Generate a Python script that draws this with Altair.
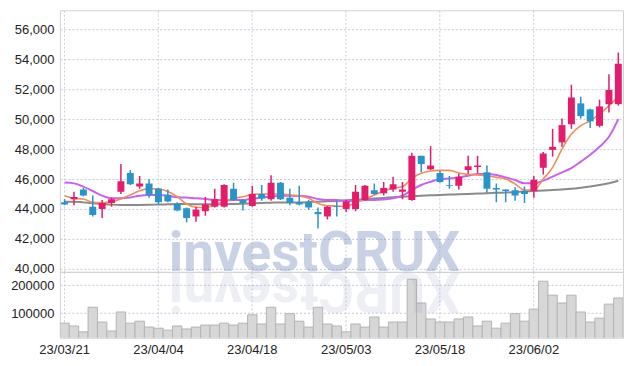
import altair as alt
import pandas as pd

dates = ["23/03/21", "23/03/22", "23/03/23", "23/03/24", "23/03/27", "23/03/28", "23/03/29", "23/03/30", "23/03/31", "23/04/03",
         "23/04/04", "23/04/05", "23/04/06", "23/04/07", "23/04/10", "23/04/11", "23/04/12", "23/04/13", "23/04/14", "23/04/17",
         "23/04/18", "23/04/19", "23/04/20", "23/04/21", "23/04/24", "23/04/25", "23/04/26", "23/04/27", "23/04/28", "23/05/02",
         "23/05/03", "23/05/04", "23/05/08", "23/05/09", "23/05/10", "23/05/11", "23/05/12", "23/05/15", "23/05/16", "23/05/17",
         "23/05/18", "23/05/19", "23/05/22", "23/05/23", "23/05/24", "23/05/25", "23/05/26", "23/05/30", "23/05/31", "23/06/01",
         "23/06/02", "23/06/05", "23/06/07", "23/06/08", "23/06/09", "23/06/12", "23/06/13", "23/06/14", "23/06/15", "23/06/16"]

opens = [44450, 44650, 45300, 44150, 44000, 44400, 45150, 46400, 45500, 45700,
         45350, 44950, 44350, 44050, 43500, 43850, 44150, 44150, 45350, 44600,
         44200, 45000, 44650, 45750, 44750, 44450, 44450, 43800, 43500, 44200,
         44000, 44000, 44600, 45250, 45050, 45300, 45150, 44600, 47550, 46650,
         46400, 45600, 45550, 46600, 46800, 46450, 45400, 45300, 45250, 45200,
         45200, 46750, 47950, 48450, 49650, 51050, 50650, 49550, 51000, 51000]
closes = [44300, 44800, 44900, 43600, 44400, 44650, 45850, 45650, 45700, 44950,
          44450, 44500, 43900, 43400, 43950, 44300, 44650, 45600, 44600, 44400,
          45000, 44700, 45750, 44650, 44400, 44300, 44100, 43650, 44150, 44150,
          44500, 45150, 45550, 45000, 45400, 45650, 45300, 47550, 47000, 46900,
          45800, 45550, 46150, 46850, 46900, 45350, 45300, 45200, 44900, 45000,
          45950, 47700, 48150, 49600, 51450, 50200, 49850, 50850, 51950, 53700]
highs = [44650, 45150, 45400, 44900, 44600, 44750, 47000, 46600, 46200, 46000,
         45400, 45300, 44450, 44100, 44150, 44800, 45350, 45650, 45750, 44650,
         45550, 45600, 46250, 45800, 45350, 45550, 44600, 44100, 44200, 44550,
         44600, 45600, 45600, 45700, 45800, 46150, 45800, 47750, 47550, 48200,
         46550, 46200, 46350, 47550, 47550, 46900, 45700, 45300, 45450, 45500,
         46200, 47800, 49350, 50050, 52300, 51500, 50700, 51300, 53000, 54450]
lows = [44250, 44250, 44850, 43500, 43400, 44150, 45000, 45600, 45350, 44750,
        44300, 44450, 43850, 43100, 43150, 43550, 44100, 44100, 44550, 43900,
        44150, 44550, 44550, 44600, 44250, 44250, 43950, 42700, 43300, 43500,
        43800, 43850, 44550, 44950, 44900, 45150, 44650, 44550, 46450, 46600,
        45750, 45350, 45300, 46350, 46400, 45100, 44450, 44450, 44550, 44400,
        44750, 46300, 47500, 48150, 49350, 50050, 49400, 49450, 50450, 50900]
volumes = [64000, 54000, 33000, 121000, 68000, 36000, 104000, 64000, 71000, 50000,
           46000, 39000, 54000, 43000, 50000, 57000, 57000, 64000, 57000, 64000,
           94000, 61000, 121000, 61000, 98000, 71000, 50000, 121000, 61000, 54000,
           33000, 61000, 50000, 86000, 50000, 68000, 68000, 221000, 136000, 79000,
           68000, 68000, 79000, 86000, 54000, 71000, 46000, 64000, 98000, 71000,
           114000, 214000, 164000, 136000, 164000, 104000, 68000, 82000, 132000, 154000]
ma_short = [44890, 44710, 44670, 44440, 44420, 44490, 44670, 44930, 45220, 45360,
            45330, 45160, 44820, 44330, 44110, 44090, 44310, 44490, 44710, 44820,
            44980, 45000, 45000, 45000, 44930, 44870, 44710, 44360, 44220, 44200,
            44160, 44420, 44670, 44930, 45200, 45380, 45490, 46040, 46380, 46530,
            46580, 46580, 46400, 46310, 46270, 46220, 46110, 46000, 45670, 45270,
            45270, 46000, 46780, 48000, 49000, 49560, 49890, 50330, 50890, 51500]
ma_mid = [45760, 45710, 45490, 45200, 44890, 44710, 44710, 44760, 44890, 44930,
          44930, 44890, 44780, 44760, 44710, 44670, 44600, 44560, 44600, 44600,
          44670, 44760, 44820, 44890, 44890, 44870, 44820, 44670, 44600, 44600,
          44530, 44530, 44600, 44600, 44640, 44710, 44890, 45270, 45600, 45820,
          46000, 46040, 46110, 46220, 46330, 46330, 46270, 46110, 45930, 45710,
          45710, 45890, 46160, 46440, 46730, 47160, 47620, 48160, 48820, 50000]
ma_long = [44490, 44490, 44440, 44380, 44330, 44290, 44270, 44270, 44270, 44280,
           44300, 44310, 44330, 44330, 44310, 44310, 44310, 44320, 44330, 44350,
           44380, 44400, 44420, 44440, 44440, 44440, 44460, 44490, 44510, 44540,
           44580, 44620, 44660, 44700, 44740, 44780, 44820, 44850, 44880, 44910,
           44940, 44960, 44980, 45000, 45030, 45050, 45080, 45100, 45130, 45170,
           45200, 45230, 45260, 45300, 45350, 45420, 45500, 45600, 45720, 45880]

price_ticks = [40000, 42000, 44000, 46000, 48000, 50000, 52000, 54000, 56000]
volume_ticks = [100000, 200000]
label_dates = dates[0::10]
watermark = ["investCRUX"]
watermark_reflect = ["XURCtsevni"]

RED = "#e31d6b"
BLUE = "#2a93c8"
ORANGE = "#f08d5c"
PURPLE = "#c862ec"
GRAY = "#8a8a8a"
GRID = "#c9c9da"
FONT = "Liberation Sans"

df = pd.DataFrame({
    "date": dates, "open": opens, "close": closes, "high": highs, "low": lows,
    "volume": volumes, "ma_short": ma_short, "ma_mid": ma_mid, "ma_long": ma_long,
})

W = 564
xscale = alt.Scale(domain=dates, paddingInner=0, paddingOuter=0)
x_price = alt.X("date:O", sort=dates, scale=xscale, title=None,
                axis=alt.Axis(values=label_dates, labels=False, ticks=False, tickSize=0, domain=False,
                              grid=True, gridDash=[2, 2], gridColor=GRID,
                              labelPadding=0, minExtent=0, maxExtent=0))
x_vol = alt.X("date:O", sort=dates, scale=xscale, title=None,
              axis=alt.Axis(values=label_dates, labelAngle=0, ticks=False, tickSize=0, domain=False,
                            grid=True, gridDash=[2, 2], gridColor=GRID, labelPadding=6,
                            labelFontSize=13, labelFont=FONT, labelColor="#222222"))

pscale = alt.Scale(domain=[39800, 57270], zero=False, nice=False)
y_axis = alt.Axis(values=price_ticks, format=",.0f", ticks=False, tickSize=0, domain=False,
                  grid=True, gridDash=[2, 2], gridColor=GRID, labelPadding=6,
                  labelFontSize=13, labelFont=FONT, labelColor="#222222")

color_cond = alt.condition("datum.close >= datum.open", alt.value(RED), alt.value(BLUE))

base = alt.Chart(df).encode(x=x_price)

def py(field):
    return alt.Y(field, type="quantitative", scale=pscale, axis=y_axis, title=None)

line_long = base.mark_line(color=GRAY, strokeWidth=2, interpolate="monotone").encode(y=py("ma_long"))
line_mid = base.mark_line(color=PURPLE, strokeWidth=2, interpolate="monotone").encode(y=py("ma_mid"))
line_short = base.mark_line(color=ORANGE, strokeWidth=1.6, interpolate="monotone").encode(y=py("ma_short"))
wick = base.mark_rule(strokeWidth=1.5).encode(y=py("low"), y2="high:Q", color=color_cond)
body = base.mark_bar(width=alt.RelativeBandSize(0.74)).encode(y=py("open"), y2="close:Q", color=color_cond)

wm = alt.Chart(pd.DataFrame({"t": watermark})).mark_text(
    font="Roboto", fontWeight="bold", fontSize=55, color="#7f93c2", opacity=0.42,
    align="center", baseline="alphabetic", clip=True).encode(
    text="t:N", x=alt.value(255), y=alt.value(261))

price = alt.layer(wm, line_long, line_mid, line_short, wick, body).properties(width=W, height=262)

vscale = alt.Scale(domain=[11800, 247500], zero=False, nice=False)
vol_bars = alt.Chart(df).mark_bar(fill="#d7d7d7", stroke="#b4b4b4", strokeWidth=1, clip=True).encode(
    x=x_vol,
    y=alt.Y("volume:Q", scale=vscale, title=None,
            axis=alt.Axis(values=volume_ticks, format="d", ticks=False, tickSize=0, domain=False,
                          grid=True, gridDash=[2, 2], gridColor=GRID, labelPadding=6,
                          labelFontSize=13, labelFont=FONT, labelColor="#222222")))
wm2 = alt.Chart(pd.DataFrame({"t": watermark_reflect})).mark_text(
    font="Roboto", fontWeight="bold", fontSize=55, color="#8f9cc2", opacity=0.16, angle=180,
    align="center", baseline="alphabetic", clip=True).encode(
    text="t:N", x=alt.value(255), y=alt.value(1))

volume = alt.layer(vol_bars, wm2).properties(width=W, height=66)

chart = alt.vconcat(price, volume, spacing=0, bounds="flush").properties(
    padding={"left": 10, "top": 9, "right": 10, "bottom": 5}
).configure_view(stroke="#d2d2d2", strokeWidth=1).configure_concat(spacing=0)

chart.save("out.html", embed_options={"renderer": "svg", "actions": False})
